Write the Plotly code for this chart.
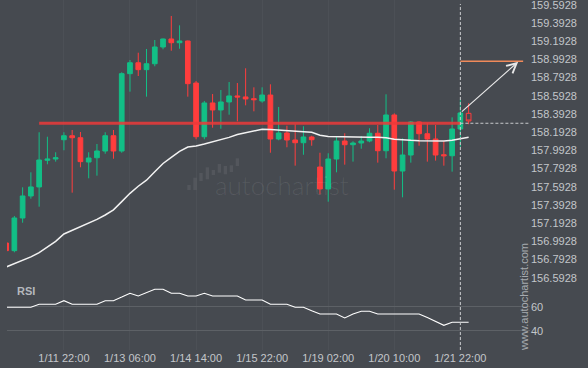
import plotly.graph_objects as go

# ---- data ----
tick_idx = [7, 15, 23, 31, 39, 47, 55]
tick_labels = ["1/11 22:00", "1/13 06:00", "1/14 14:00", "1/15 22:00",
               "1/19 02:00", "1/20 10:00", "1/21 22:00"]

opens = [156.974, 156.890, 157.249, 157.491, 157.590, 157.883, 157.897, 158.109, 158.153, 158.131,
         157.864, 157.911, 157.985, 158.153, 157.985, 158.835, 158.955, 158.879, 158.944, 159.128,
         159.216, 159.175, 159.194, 158.732, 158.142, 158.513, 158.436, 158.524, 158.590, 158.579,
         158.560, 158.535, 158.600, 158.117, 158.183, 158.106, 158.076, 158.139, 157.809, 157.568,
         157.897, 158.095, 158.054, 158.073, 158.095, 158.180, 157.988, 158.381, 157.765, 157.941,
         158.304, 158.175, 158.117, 157.944, 157.933, 158.227]
highs = [156.980, 157.271, 157.586, 157.751, 158.191, 158.142, 157.971, 158.191, 158.216, 158.194,
         157.971, 158.062, 158.191, 158.216, 158.850, 158.985, 159.065, 159.106, 159.205, 159.221,
         159.469, 159.366, 159.199, 158.754, 158.535, 158.611, 158.655, 158.743, 158.732, 158.894,
         158.685, 158.685, 158.718, 158.469, 158.263, 158.279, 158.257, 158.153, 157.966, 157.960,
         158.139, 158.180, 158.092, 158.150, 158.235, 158.271, 158.608, 158.399, 158.125, 158.315,
         158.309, 158.290, 158.271, 158.092, 158.355, 158.549]
lows = [156.885, 156.872, 157.197, 157.461, 157.373, 157.839, 157.868, 157.993, 157.527, 157.806,
        157.685, 157.714, 157.955, 157.900, 157.966, 158.637, 158.809, 158.582, 158.916, 159.103,
        159.087, 159.109, 158.582, 158.114, 158.114, 158.241, 158.230, 158.384, 158.311, 158.487,
        158.421, 158.516, 157.966, 158.103, 158.026, 157.824, 157.944, 158.043, 157.509, 157.428,
        157.751, 157.835, 157.868, 158.010, 158.081, 157.857, 157.905, 157.560, 157.476, 157.857,
        158.043, 157.868, 157.879, 157.824, 157.758, 158.032]
closes = [156.890, 157.249, 157.491, 157.590, 157.886, 157.897, 157.911, 158.153, 158.131, 157.868,
          157.908, 157.985, 158.153, 157.985, 158.835, 158.955, 158.879, 158.944, 159.128, 159.216,
          159.175, 159.194, 158.725, 158.142, 158.513, 158.436, 158.524, 158.590, 158.579, 158.557,
          158.549, 158.600, 158.117, 158.183, 158.106, 158.076, 158.139, 158.109, 157.568, 157.897,
          158.095, 158.054, 158.073, 158.095, 158.180, 157.988, 158.381, 157.765, 157.941, 158.304,
          158.175, 158.117, 157.941, 157.933, 158.227, 158.403]

# current (unfinished) candle, drawn hollow
last_open, last_high, last_low, last_close = 158.399, 158.509, 158.279, 158.315

ma = [156.710, 156.747, 156.780, 156.821, 156.868, 156.926, 156.992, 157.073, 157.113, 157.151,
      157.192, 157.233, 157.282, 157.339, 157.429, 157.520, 157.598, 157.664, 157.757, 157.848,
      157.915, 157.982, 158.029, 158.040, 158.062, 158.084, 158.106, 158.135, 158.166, 158.185,
      158.205, 158.224, 158.220, 158.216, 158.210, 158.204, 158.197, 158.191, 158.158, 158.144,
      158.141, 158.141, 158.136, 158.136, 158.136, 158.136, 158.130, 158.115, 158.105, 158.102,
      158.098, 158.095, 158.093, 158.095, 158.102, 158.117, 158.136]

rsi = [59.5, 59.5, 59.5, 59.5, 62, 62, 62, 65, 62, 62, 62, 62, 65, 65, 68, 71.2, 68.9, 71.5, 74.5, 74.5,
       71.2, 71.2, 68.9, 68.9, 71.2, 68.9, 68.9, 68.9, 68.9, 65.6, 65.6, 65.6, 62, 62, 62, 59.5, 59.5,
       56.6, 53.9, 53.9, 53.9, 50.6, 53.9, 56.2, 56.2, 53.9, 53.9, 53.9, 53.9, 53.9, 53.9, 50.9, 47.6,
       44.5, 47, 47, 47]

support_level = 158.290
support_start, signal_idx = 4, 55
target_level = 158.971
target_idx = 62
target_line_end = 62.6

price_ticks = [round(156.5928 + 0.2 * k, 4) for k in range(16)]
rsi_ticks = [40, 60]

# ---- styling ----
BG = "#464a50"
GREEN = "#12bf86"
RED = "#ff3d3d"
TXT = "#c3c6ca"
FONT = "Liberation Sans, Arial, sans-serif"

# plot area geometry (pixels) used only for decorative watermark placement
L, R, T, B = 7, 58, 0, 18
W, H = 588, 368
PW, PH = W - L - R, H - T - B
split = (PH - 282) / PH


def px(xp):
    return (xp - L) / PW


def py(yp):
    return (PH - yp) / PH


n = len(opens)
xs = list(range(n))

fig = go.Figure()

fig.add_trace(go.Candlestick(
    x=xs, open=opens, high=highs, low=lows, close=closes,
    increasing=dict(line=dict(color=GREEN, width=1), fillcolor=GREEN),
    decreasing=dict(line=dict(color=RED, width=1), fillcolor=RED),
    whiskerwidth=0, showlegend=False, hoverinfo="skip"))

fig.add_trace(go.Candlestick(
    x=[n], open=[last_open], high=[last_high], low=[last_low], close=[last_close],
    increasing=dict(line=dict(color=RED, width=1), fillcolor="rgba(0,0,0,0)"),
    decreasing=dict(line=dict(color=RED, width=1), fillcolor="rgba(0,0,0,0)"),
    whiskerwidth=0, showlegend=False, hoverinfo="skip"))

fig.add_trace(go.Scatter(
    x=list(range(len(ma))), y=ma, mode="lines",
    line=dict(color="#f2f2f2", width=1.5), showlegend=False, hoverinfo="skip"))

fig.add_trace(go.Scatter(
    x=list(range(len(rsi))), y=rsi, mode="lines", yaxis="y2",
    line=dict(color="#ffffff", width=1.1), showlegend=False, hoverinfo="skip"))

shapes = [
    # support / resistance line
    dict(type="line", xref="x", yref="y", x0=support_start, x1=signal_idx,
         y0=support_level, y1=support_level,
         line=dict(color="rgba(236,58,58,0.85)", width=3), layer="above"),
    # dashed continuation to the right edge
    dict(type="line", xref="paper", yref="y", x0=px(460.4), x1=1, y0=support_level, y1=support_level,
         line=dict(color="#c8cacc", width=1, dash="3px,2px")),
    # target level
    dict(type="line", xref="x", yref="y", x0=signal_idx, x1=target_line_end,
         y0=target_level, y1=target_level, line=dict(color="#f08a5a", width=1.5)),
    # signal time vertical
    dict(type="line", xref="x", yref="paper", x0=signal_idx, x1=signal_idx,
         y0=py(350), y1=py(4), line=dict(color="#c8cacc", width=1, dash="3px,2px")),
]

# watermark logo bars
bars = [(187.3, 185, 190), (193.3, 177.7, 190), (199.3, 173, 181), (205.7, 167.3, 179.3),
        (211.7, 170, 175), (217.7, 164, 172.7), (223.7, 166, 174.3), (229.7, 165.3, 172),
        (235.7, 158.3, 166)]
for bx, by0, by1 in bars:
    shapes.append(dict(type="rect", xref="paper", yref="paper",
                       x0=px(bx), x1=px(bx + 3.4), y0=py(by1), y1=py(by0),
                       fillcolor="rgba(255,255,255,0.07)", line=dict(width=0), layer="below"))

annotations = [
    dict(x=target_idx, y=target_level - 0.005, ax=signal_idx, ay=closes[signal_idx],
         xref="x", yref="y", axref="x", ayref="y", text="", showarrow=True,
         arrowhead=5, arrowsize=1.6, arrowwidth=1.2, arrowcolor="#e8e8e8", standoff=0),
    dict(x=px(15), y=py(291), xref="paper", yref="paper", text="<b>RSI</b>",
         showarrow=False, xanchor="left", yanchor="middle",
         font=dict(family=FONT, size=11, color="#b4b8bd")),
    dict(x=px(524), y=py(297), xref="paper", yref="paper", text="www.autochartist.com",
         textangle=-90, showarrow=False, xanchor="center", yanchor="middle",
         font=dict(family=FONT, size=11, color="#a6aaaf")),
    dict(x=px(282), y=py(185), xref="paper", yref="paper", text="autochartist",
         showarrow=False, xanchor="center", yanchor="middle",
         font=dict(family="Lato, sans-serif", size=26, color="rgba(255,255,255,0.09)", weight=300)),
]

fig.update_layout(
    width=W, height=H,
    margin=dict(l=L, r=R, t=T, b=B, pad=0),
    paper_bgcolor=BG, plot_bgcolor=BG,
    font=dict(family=FONT, size=11, color=TXT),
    boxgap=0.19,
    showlegend=False,
    hovermode=False,
    shapes=shapes,
    annotations=annotations,
    xaxis=dict(range=[0.109, 63.43], anchor="y2", rangeslider=dict(visible=False),
               tickmode="array", tickvals=tick_idx, ticktext=tick_labels,
               showgrid=True, gridcolor="rgba(255,255,255,0.035)", gridwidth=1,
               zeroline=False, showline=False, ticks="",
               tickfont=dict(family=FONT, size=11, color=TXT)),
    yaxis=dict(domain=[split, 1], range=[156.5455, 159.6444], side="right",
               tickmode="array", tickvals=price_ticks, tickformat=".4f",
               ticklabeloverflow="allow",
               showgrid=False, zeroline=False, showline=False, ticks="",
               tickfont=dict(family=FONT, size=11, color=TXT)),
    yaxis2=dict(domain=[0, split], range=[23.92, 80.58], side="right",
                tickmode="array", tickvals=rsi_ticks,
                showgrid=True, gridcolor="#5d6166", gridwidth=1,
                zeroline=False, showline=False, ticks="",
                tickfont=dict(family=FONT, size=11, color=TXT)),
)

fig.write_html("out.html", config={"displayModeBar": False},
               post_script="document.body.style.margin='0';")
